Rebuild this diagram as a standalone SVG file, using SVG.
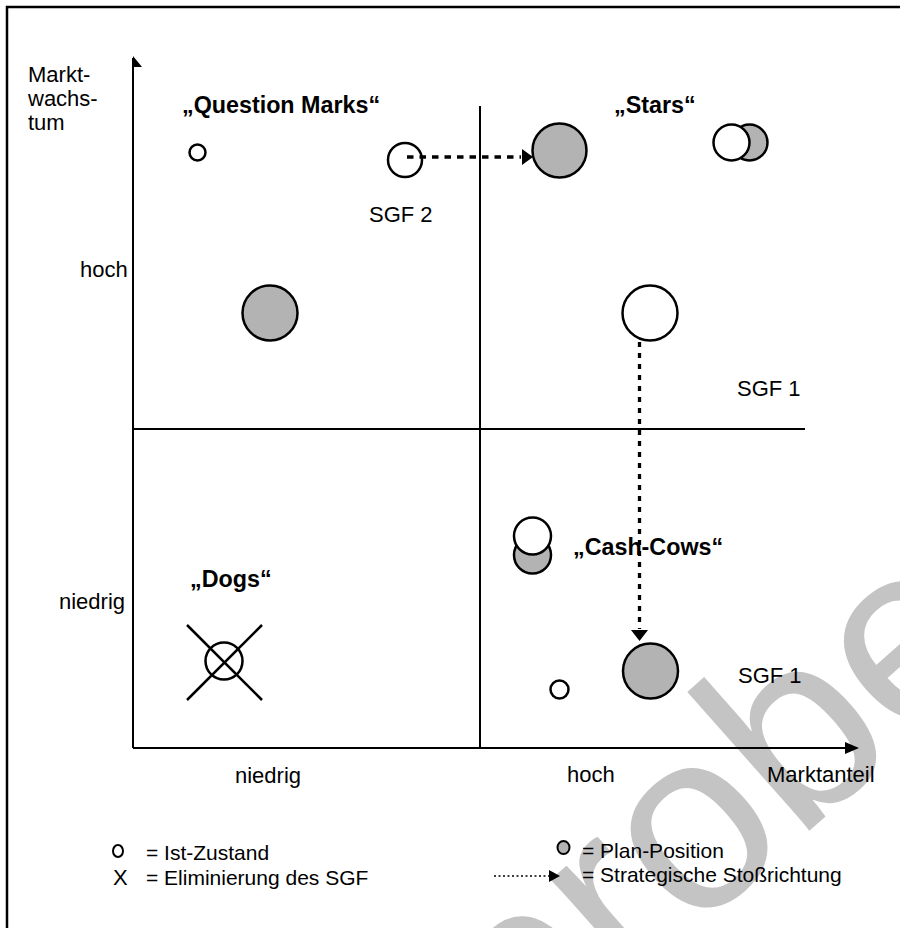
<svg xmlns="http://www.w3.org/2000/svg" width="900" height="928" viewBox="0 0 900 928">
<style>
.t{font-family:"Liberation Sans",Arial,sans-serif;font-size:22px;fill:#000}
.b{font-family:"Liberation Sans",Arial,sans-serif;font-size:23.3px;font-weight:bold;fill:#000}
.l{font-family:"Liberation Sans",Arial,sans-serif;font-size:21px;fill:#000}
.ax{stroke:#000;stroke-width:2;fill:none}
.ist{fill:#fff;stroke:#000;stroke-width:2.5}
.plan{fill:#b3b3b3;stroke:#000;stroke-width:2.5}
.wm{font-family:"Liberation Sans",Arial,sans-serif;font-size:255px;fill:#c4c4c4}
</style>
<rect width="900" height="928" fill="#fff"/>
<text class="wm" transform="translate(521,1086) rotate(-41.5)">probe</text>
<rect x="7" y="7" width="1000" height="1000" fill="none" stroke="#000" stroke-width="2.5"/>

<g id="axes">
<line class="ax" x1="133" y1="58" x2="133" y2="748"/>
<polygon points="133,56 142,67 133,67" fill="#000"/>
<line class="ax" x1="133" y1="748" x2="847" y2="748"/>
<polygon points="845,742 859,748 845,754" fill="#000"/>
<line class="ax" x1="480" y1="106" x2="480" y2="748"/>
<line class="ax" x1="133" y1="429" x2="805" y2="429"/>
</g>

<g id="axis-labels">
<text class="t" x="28" y="82">Markt-</text>
<text class="t" x="28" y="106">wachs-</text>
<text class="t" x="28" y="130">tum</text>
<text class="t" x="80" y="277">hoch</text>
<text class="t" x="59" y="609">niedrig</text>
<text class="t" x="235" y="783">niedrig</text>
<text class="t" x="567" y="782">hoch</text>
<text class="t" x="767" y="782">Marktanteil</text>
</g>

<g id="quadrant-labels">
<text class="b" x="182" y="113">„Question Marks“</text>
<text class="b" x="614" y="113">„Stars“</text>
<text class="b" x="573" y="555">„Cash-Cows“</text>
<text class="b" x="190" y="587">„Dogs“</text>
</g>

<g id="qm-small"><circle class="ist" cx="197.5" cy="152.5" r="8"/></g>
<g id="sgf2">
<circle class="ist" cx="405" cy="160" r="17"/>
<text class="t" x="369" y="222">SGF 2</text>
</g>
<g id="qm-plan"><circle class="plan" cx="270" cy="313" r="27.5"/></g>
<g id="stars-plan"><circle class="plan" cx="559.5" cy="150.5" r="27"/></g>
<g id="stars-pair">
<circle class="plan" cx="749.5" cy="142.5" r="18"/>
<circle class="ist" cx="731.5" cy="142.5" r="18"/>
</g>
<g id="sgf1-ist">
<circle class="ist" cx="650" cy="313" r="27.5"/>
<text class="t" x="737" y="396">SGF 1</text>
</g>
<g id="cc-pair">
<circle class="plan" cx="532.5" cy="555" r="18.5"/>
<circle class="ist" cx="532.5" cy="536" r="18.5"/>
</g>
<g id="cc-small"><circle class="ist" cx="559.5" cy="689.5" r="9"/></g>
<g id="sgf1-plan">
<circle class="plan" cx="650.5" cy="671" r="27.5"/>
<text class="t" x="738" y="683">SGF 1</text>
</g>
<g id="dog">
<circle class="ist" cx="224" cy="661" r="18.5"/>
<line x1="187" y1="625" x2="262" y2="700" stroke="#000" stroke-width="2.5"/>
<line x1="262" y1="625" x2="187" y2="700" stroke="#000" stroke-width="2.5"/>
</g>

<g id="connectors">
<line x1="407" y1="157" x2="521" y2="157" stroke="#000" stroke-width="3.3" stroke-dasharray="6.5 6"/>
<polygon points="522,149 533,157 522,165" fill="#000"/>
<line x1="639.5" y1="342" x2="639.5" y2="629" stroke="#000" stroke-width="3.3" stroke-dasharray="5 6"/>
<polygon points="631,630 648,630 639.5,641" fill="#000"/>
</g>

<g id="legend">
<ellipse cx="118" cy="851" rx="5" ry="6" fill="#fff" stroke="#000" stroke-width="2"/>
<text class="l" x="146" y="860">= Ist-Zustand</text>
<text class="t" x="113" y="885">X</text>
<text class="l" x="146" y="885">= Eliminierung des SGF</text>
<ellipse cx="563.5" cy="847.5" rx="6" ry="6.5" fill="#b3b3b3" stroke="#000" stroke-width="2"/>
<text class="l" x="582" y="858">= Plan-Position</text>
<line x1="494" y1="876" x2="550" y2="876" stroke="#000" stroke-width="1.5" stroke-dasharray="2 2.5"/>
<polygon points="549,870 560,876 549,882" fill="#000"/>
<text class="l" x="582" y="882">= Strategische Stoßrichtung</text>
</g>
</svg>
